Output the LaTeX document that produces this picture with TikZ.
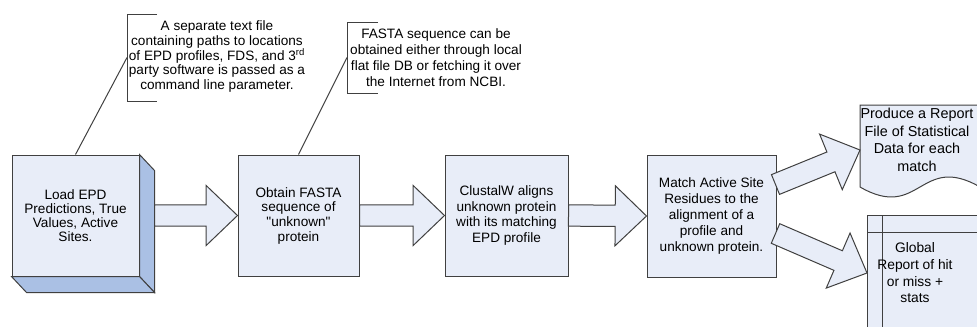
\documentclass[tikz,border=0pt]{standalone}
\usepackage{fontspec}
\setmainfont{Liberation Sans}
% same face without the TeX quote mapping, for straight double quotes
\newfontfamily\plainquotes{Liberation Sans}
\usetikzlibrary{calc}

\definecolor{boxfill}{RGB}{232,237,248}
\definecolor{sidefill}{RGB}{170,192,228}
\definecolor{edge}{RGB}{64,64,64}

% block arrow dimensions
\def\shaftw{8pt}
\def\headw{22.5pt}
\def\headl{23.5pt}

% wide hollow arrow from #1 (tail centre) to #2 (tip)
\newcommand\blockarrow[2]{%
  \draw[flowarrow] let \p1=(#1), \p2=(#2),
      \n1={atan2(\y2-\y1,\x2-\x1)}, \n2={veclen(\x2-\x1,\y2-\y1)} in
    ($(\p1)+(\n1+90:\shaftw)$)
    -- ($(\p1)+(\n1:\n2-\headl)+(\n1+90:\shaftw)$)
    -- ($(\p1)+(\n1:\n2-\headl)+(\n1+90:\headw)$)
    -- (\p2)
    -- ($(\p1)+(\n1:\n2-\headl)+(\n1-90:\headw)$)
    -- ($(\p1)+(\n1:\n2-\headl)+(\n1-90:\shaftw)$)
    -- ($(\p1)+(\n1-90:\shaftw)$) -- cycle;}

\begin{document}
\begin{tikzpicture}[x=0.75pt,y=-0.75pt,
  outline/.style={draw=edge, line width=0.75pt, line join=miter},
  procbox/.style={outline, fill=boxfill, inner sep=0pt, align=center,
    minimum height=90.75pt},
  flowarrow/.style={outline, fill=boxfill},
  note/.style={align=center, inner sep=0pt, font=\fontsize{10.2}{11}\selectfont},
  bracket/.style={outline}]

\useasboundingbox (0,0) rectangle (977,326);
\clip (0,0) rectangle (977,326);

% process boxes
\node[procbox, minimum width=95.25pt, font=\fontsize{10.2}{10.5}\selectfont]
  (b1) at (75.5,215.5) {Load EPD\\Predictions, True\\Values, Active\\Sites.};
\node[procbox, minimum width=90.75pt, font=\plainquotes\fontsize{10.2}{11}\selectfont]
  (b2) at (298.5,215.5) {Obtain FASTA\\sequence of\\"unknown"\\protein};
\node[procbox, minimum width=92.25pt, font=\fontsize{10.2}{11.8}\selectfont]
  (b3) at (506.5,215.5) {ClustalW aligns\\unknown protein\\with its matching\\EPD profile};
\node[procbox, minimum width=96.75pt, minimum height=91.5pt, font=\fontsize{10.2}{12}\selectfont]
  (b4) at (711.5,216) {Match Active Site\\Residues to the\\alignment of a\\profile and\\unknown protein.};

% depth faces of the first box
\draw[outline, fill=sidefill] (b1.north east) -- ++(15,16)
  -- ($(b1.south east)+(15,16)$) -- (b1.south east) -- cycle;
\draw[outline, fill=sidefill] (b1.south west) -- (b1.south east)
  -- ++(15,16) -- ($(b1.south west)+(15,16)$) -- cycle;

% report sheet with wavy lower edge
\coordinate (r5) at (860,105);
\draw[outline, fill=boxfill] (r5) -- ++(120,0) -- ++(0,82)
  .. controls ($(r5)+(60,47.4)$) and ($(r5)+(60,116.6)$) .. ($(r5)+(0,82)$) -- cycle;
\node[note, font=\fontsize{10.8}{13.1}\selectfont] (b5) at (917,140)
  {Produce a Report\\File of Statistical\\Data for each\\match};

% internal storage for the global report
\node[outline, fill=boxfill, anchor=north west, minimum width=100pt,
  minimum height=90pt, inner sep=0pt] (b6) at (867,215) {};
\draw[outline] ($(b6.north west)+(15,0)$) -- ($(b6.south west)+(15,0)$);
\draw[outline] ($(b6.north west)+(0,17)$) -- ($(b6.north east)+(0,17)$);
\node[note, font=\fontsize{10.35}{12.5}\selectfont] (b6text) at (915,273)
  {Global\\Report of hit\\or miss +\\stats};

% flow arrows
\blockarrow{$(b1.east)+(15,0)$}{b2.west}
\blockarrow{b2.east}{b3.west}
\blockarrow{b3.east}{b4.west}
\blockarrow{$(b4.east)+(-1,-31.5)$}{$(r5)+(0,45)$}
\blockarrow{$(b4.east)+(-1,17.5)$}{$(b6.north west)+(0,58)$}

% annotations
\node[note, font=\fontsize{10.2}{11}\selectfont] (c1) at (217,56.5)
  {A separate text file\\containing paths to locations\\of EPD profiles, FDS, and 3\textsuperscript{rd}\\party software is passed as a\\command line parameter.};
\draw[bracket] (157,14) -- (127,14) -- (127,101) -- (157,101);
\coordinate (c1tip) at (127,57.5);
\draw[outline] (c1tip) -- (b1.north);

\node[note, font=\fontsize{10.2}{11.9}\selectfont] (c2) at (436,57.5)
  {FASTA sequence can be\\obtained either through local\\flat file DB or fetching it over\\the Internet from NCBI.};
\draw[bracket] (378,22) -- (347,22) -- (347,93) -- (378,93);
\coordinate (c2tip) at (347,57.5);
\draw[outline] (c2tip) -- (b2.north);

\end{tikzpicture}
\end{document}
